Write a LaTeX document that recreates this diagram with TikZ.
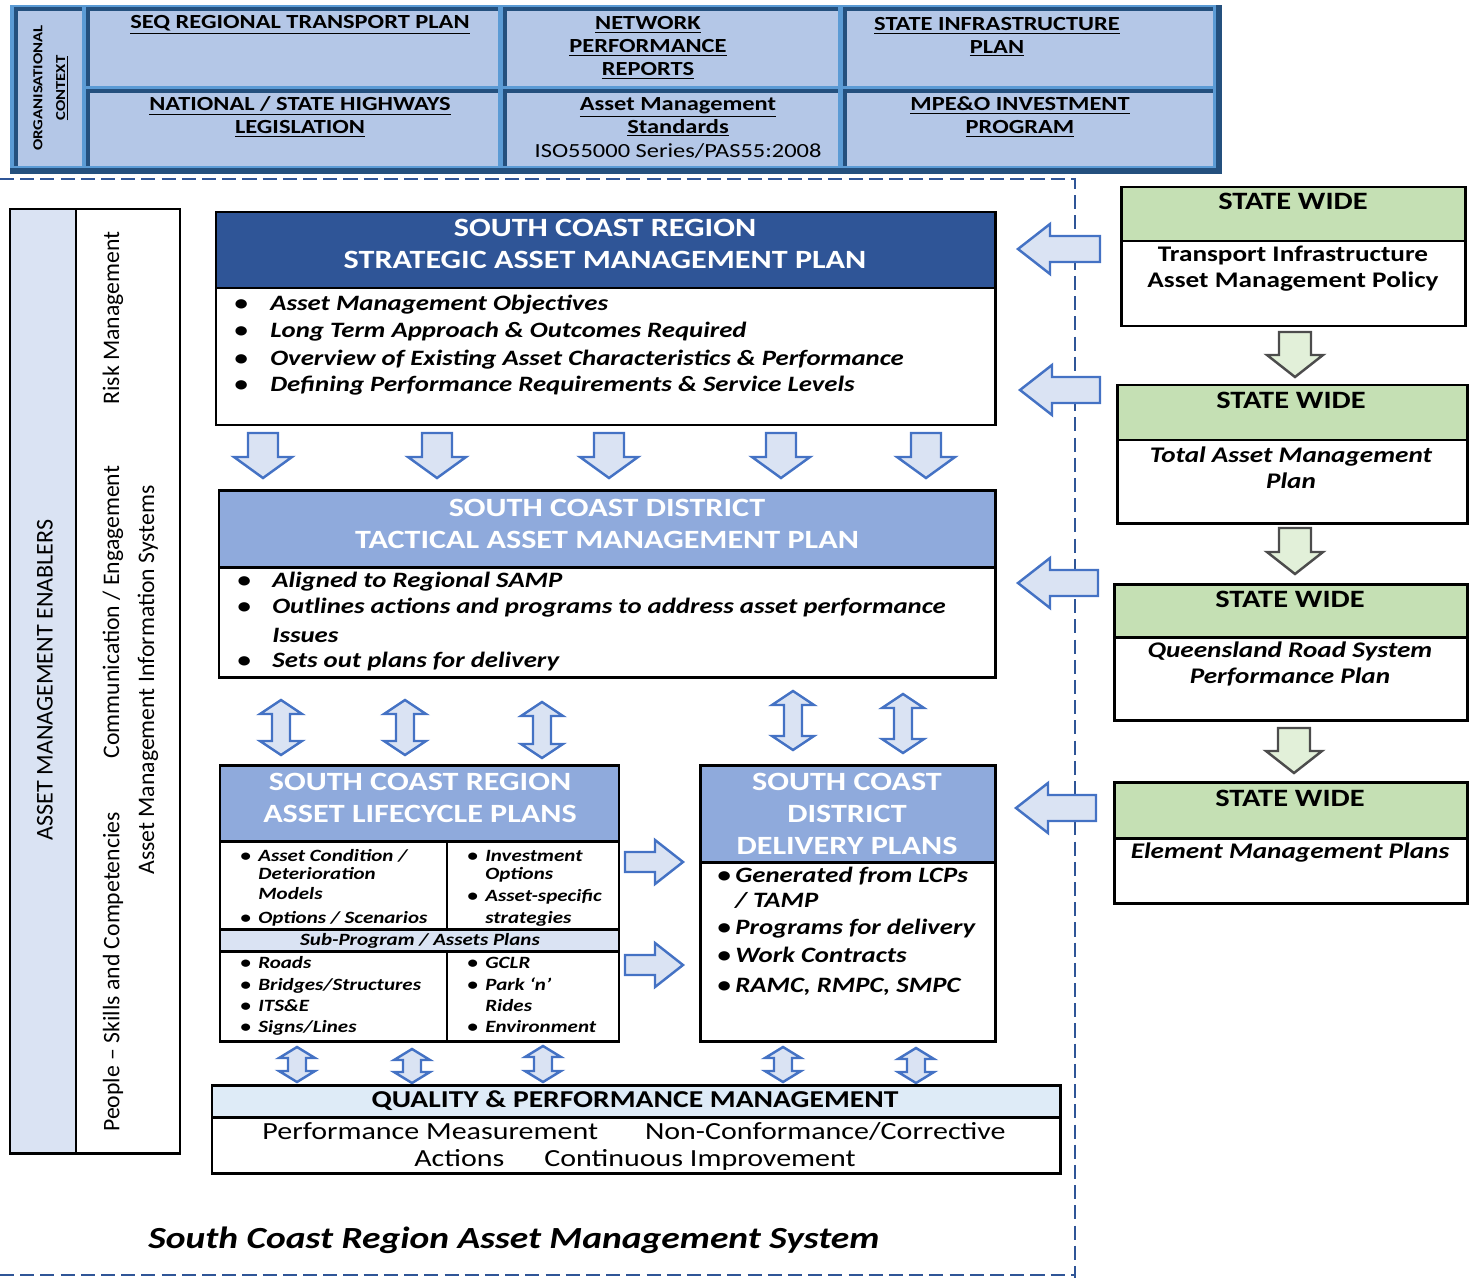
\documentclass[tikz,border=0pt]{standalone}
\usepackage{fontspec}
\setmainfont{Carlito}
\newfontfamily\widefont{Carlito}[FakeStretch=1.22]
\usetikzlibrary{calc}

\definecolor{framedark}{HTML}{24507E}
\definecolor{framemid}{HTML}{5B9BD5}
\definecolor{framecell}{HTML}{B4C7E7}
\definecolor{dashblue}{HTML}{2F5597}
\definecolor{hdrdark}{HTML}{2F5597}
\definecolor{hdrmid}{HTML}{8FAADC}
\definecolor{paleblue}{HTML}{DAE3F3}
\definecolor{arrowblue}{HTML}{4472C4}
\definecolor{hdrgreen}{HTML}{C5E0B4}
\definecolor{palegreen}{HTML}{E2F0D9}
\definecolor{qpmhdr}{HTML}{DEEBF7}

% cell of the context table: dark top and left edge
\def\ctxcell(#1,#2)(#3,#4){\fill[framecell] (#1,#2) rectangle (#3,#4);
  \draw[framedark, line width=2.6pt] (#1,#4) -- (#1,#2) -- (#3,#2);}
% block arrows: (x,y)(length:shaft half:head half:head length)
\def\arrowdown[#1](#2,#3)(#4:#5:#6:#7){\draw[#1] (#2-#5,#3) -- (#2+#5,#3) -- (#2+#5,#3+#4-#7) -- (#2+#6,#3+#4-#7) -- (#2,#3+#4) -- (#2-#6,#3+#4-#7) -- (#2-#5,#3+#4-#7) -- cycle;}
\def\arrowleft[#1](#2,#3)(#4:#5:#6:#7){\draw[#1] (#2,#3) -- (#2+#7,#3-#6) -- (#2+#7,#3-#5) -- (#2+#4,#3-#5) -- (#2+#4,#3+#5) -- (#2+#7,#3+#5) -- (#2+#7,#3+#6) -- cycle;}
\def\arrowright[#1](#2,#3)(#4:#5:#6:#7){\draw[#1] (#2,#3-#5) -- (#2+#4-#7,#3-#5) -- (#2+#4-#7,#3-#6) -- (#2+#4,#3) -- (#2+#4-#7,#3+#6) -- (#2+#4-#7,#3+#5) -- (#2,#3+#5) -- cycle;}
\def\arrowupdown[#1](#2,#3)(#4:#5:#6:#7){\draw[#1] (#2,#3) -- (#2+#6,#3+#7) -- (#2+#5,#3+#7) -- (#2+#5,#3+#4-#7) -- (#2+#6,#3+#4-#7) -- (#2,#3+#4) -- (#2-#6,#3+#4-#7) -- (#2-#5,#3+#4-#7) -- (#2-#5,#3+#7) -- (#2-#6,#3+#7) -- cycle;}

\tikzset{
  ctxtext/.style={font=\widefont\bfseries\fontsize{11.4}{13}\selectfont, align=center, inner sep=0pt},
  hdrtext/.style={font=\widefont\bfseries\fontsize{15}{18.1}\selectfont, text=white, align=center, inner sep=0pt},
  item/.style={anchor=west, inner sep=0pt, text height=9pt, text depth=2.5pt, font=\widefont\bfseries\itshape\fontsize{12.5}{15}\selectfont},
  smallitem/.style={item, text height=7pt, text depth=2pt, font=\widefont\bfseries\itshape\fontsize{9.8}{11}\selectfont},
  sidetext/.style={rotate=90, inner sep=0pt, font=\fontsize{13.5}{16}\selectfont},
  boxline/.style={draw=black, line width=1.7pt},
  bluearrow/.style={draw=arrowblue, fill=paleblue, line width=1.4pt},
  greenarrow/.style={draw=black!70, fill=palegreen, line width=1.4pt},
  dashline/.style={draw=dashblue, line width=1.2pt, dash pattern=on 8pt off 3.5pt},
  statehdr/.style={font=\widefont\bfseries\fontsize{14.2}{16}\selectfont, inner sep=0pt},
  statebody/.style={font=\widefont\bfseries\fontsize{12.7}{14.7}\selectfont, align=center, inner sep=0pt},
}

\begin{document}
\begin{tikzpicture}[x=0.02cm, y=-0.02cm]
	%%%%% START %%%%%
	\useasboundingbox (0,0) rectangle (1478,1278);
	
	% organisational context
	\fill[framemid] (10,5) rectangle (1220,172);
	\draw[framedark, line width=3.4pt] (10,171) -- (1219,171) -- (1219,5);
	\ctxcell(16,9)(82,166)
	\ctxcell(88,9)(498,86)
	\ctxcell(88,91)(498,166)
	\ctxcell(505,9)(838,86)
	\ctxcell(505,91)(838,166)
	\ctxcell(845,9)(1213,86)
	\ctxcell(845,91)(1213,166)
	
	\node[ctxtext, rotate=90, font=\widefont\bfseries\fontsize{7.8}{13}\selectfont] (ctx-org) at (51,88) {ORGANISATIONAL\\\underline{CONTEXT}};
	\node[ctxtext] (ctx-seq) at (300,25) {\underline{SEQ REGIONAL TRANSPORT PLAN}};
	\node[ctxtext] (ctx-npr) at (648,48) {\underline{NETWORK}\\\underline{PERFORMANCE}\\\underline{REPORTS}};
	\node[ctxtext] (ctx-sip) at (997,37) {\underline{STATE INFRASTRUCTURE}\\\underline{PLAN}};
	\node[ctxtext] (ctx-leg) at (300,117) {\underline{NATIONAL / STATE HIGHWAYS}\\\underline{LEGISLATION}};
	\node[ctxtext] (ctx-std) at (678,117) {\underline{Asset Management}\\\underline{Standards}};
	\node[ctxtext, font=\widefont\fontsize{11.4}{13}\selectfont] (ctx-iso) at (678,151) {ISO55000 Series/PAS55:2008};
	\node[ctxtext] (ctx-inv) at (1020,117) {\underline{MPE\&O INVESTMENT}\\\underline{PROGRAM}};
	
	% system boundary
	\draw[dashline] (0,179) -- (1075,179) -- (1075,1278);
	\draw[dashline] (0,1275) -- (1075,1275);
	
	% enablers
	\fill[paleblue] (10,209) rectangle (76,1153);
	\draw[boxline] (10,209) rectangle (180,1153);
	\draw[boxline] (76,209) -- (76,1153);
	\node[sidetext, font=\fontsize{13.7}{15}\selectfont] (en-title) at (45,680) {ASSET MANAGEMENT ENABLERS};
	\node[sidetext] (en-risk) at (113,318) {Risk Management};
	\node[sidetext] (en-comm) at (113,612) {Communication / Engagement};
	\node[sidetext] (en-people) at (113,972) {People -- Skills and Competencies};
	\node[sidetext] (en-info) at (148,680) {Asset Management Information Systems};
	
	% strategic plan
	\fill[hdrdark] (216,212) rectangle (995,288);
	\draw[boxline] (216,212) rectangle (995,425);
	\draw[boxline] (216,288) -- (995,288);
	\node[hdrtext] (samp-h) at (605,244) {SOUTH COAST REGION\\STRATEGIC ASSET MANAGEMENT PLAN};
	\node[item] (samp-1) at (234,305) {\makebox[0.72cm][l]{\textbullet}Asset Management Objectives};
	\node[item] (samp-2) at (234,332) {\makebox[0.72cm][l]{\textbullet}Long Term Approach \& Outcomes Required};
	\node[item] (samp-3) at (234,360) {\makebox[0.72cm][l]{\textbullet}Overview of Existing Asset Characteristics \& Performance};
	\node[item] (samp-4) at (234,386) {\makebox[0.72cm][l]{\textbullet}Defining Performance Requirements \& Service Levels};
	
	\arrowdown[bluearrow](263,433)(45:15:29:21)
	\arrowdown[bluearrow](437,433)(45:15:29:21)
	\arrowdown[bluearrow](609,433)(45:15:29:21)
	\arrowdown[bluearrow](781,433)(45:15:29:21)
	\arrowdown[bluearrow](926,433)(45:15:29:21)
	
	% tactical plan
	\fill[hdrmid] (219,490) rectangle (995,567);
	\draw[boxline] (219,490) rectangle (995,677);
	\draw[boxline] (219,567) -- (995,567);
	\node[hdrtext] (tamp-h) at (607,524) {SOUTH COAST DISTRICT\\TACTICAL ASSET MANAGEMENT PLAN};
	\node[item] (tamp-1) at (237,582) {\makebox[0.7cm][l]{\textbullet}Aligned to Regional SAMP};
	\node[item] (tamp-2) at (237,608) {\makebox[0.7cm][l]{\textbullet}Outlines actions and programs to address asset performance};
	\node[item] (tamp-3) at (272,637) {Issues};
	\node[item] (tamp-4) at (237,662) {\makebox[0.7cm][l]{\textbullet}Sets out plans for delivery};
	
	\arrowupdown[bluearrow](281,700)(55:9:21:14)
	\arrowupdown[bluearrow](405,700)(55:9:21:14)
	\arrowupdown[bluearrow](542,702)(56:9:21:14)
	\arrowupdown[bluearrow](793,691)(59:9:21:14)
	\arrowupdown[bluearrow](903,694)(59:9:21:14)
	
	% lifecycle plans
	\fill[hdrmid] (220,765) rectangle (619,841);
	\fill[paleblue] (220,929) rectangle (619,951);
	\draw[boxline] (220,765) rectangle (619,1041);
	\draw[boxline] (220,841) -- (619,841);
	\draw[boxline] (220,929) -- (619,929);
	\draw[boxline] (220,951) -- (619,951);
	\draw[boxline] (447,841) -- (447,929);
	\draw[boxline] (447,951) -- (447,1041);
	\node[hdrtext] (alcp-h) at (420,798) {SOUTH COAST REGION\\ASSET LIFECYCLE PLANS};
	\node[smallitem] (alcp-1) at (240,857) {\makebox[0.36cm][l]{\textbullet}Asset Condition /};
	\node[smallitem] (alcp-2) at (258,875) {Deterioration};
	\node[smallitem] (alcp-3) at (258,895) {Models};
	\node[smallitem] (alcp-4) at (240,919) {\makebox[0.36cm][l]{\textbullet}Options / Scenarios};
	\node[smallitem] (alcp-5) at (467,857) {\makebox[0.36cm][l]{\textbullet}Investment};
	\node[smallitem] (alcp-6) at (485,875) {Options};
	\node[smallitem] (alcp-7) at (467,897) {\makebox[0.36cm][l]{\textbullet}Asset-specific};
	\node[smallitem] (alcp-8) at (485,919) {strategies};
	\node[smallitem, anchor=center] (alcp-sub) at (420,941) {Sub-Program / Assets Plans};
	\node[smallitem] (alcp-9) at (240,964) {\makebox[0.36cm][l]{\textbullet}Roads};
	\node[smallitem] (alcp-10) at (240,986) {\makebox[0.36cm][l]{\textbullet}Bridges/Structures};
	\node[smallitem] (alcp-11) at (240,1007) {\makebox[0.36cm][l]{\textbullet}ITS\&E};
	\node[smallitem] (alcp-12) at (240,1028) {\makebox[0.36cm][l]{\textbullet}Signs/Lines};
	\node[smallitem] (alcp-13) at (467,964) {\makebox[0.36cm][l]{\textbullet}GCLR};
	\node[smallitem] (alcp-14) at (467,986) {\makebox[0.36cm][l]{\textbullet}Park ‘n’};
	\node[smallitem] (alcp-15) at (485,1007) {Rides};
	\node[smallitem] (alcp-16) at (467,1028) {\makebox[0.36cm][l]{\textbullet}Environment};
	
	\arrowright[bluearrow](625,862)(58:10:22:28)
	\arrowright[bluearrow](625,965)(58:10:22:28)
	
	% delivery plans
	\fill[hdrmid] (700,765) rectangle (995,862);
	\draw[boxline] (700,765) rectangle (995,1041);
	\draw[boxline] (700,862) -- (995,862);
	\node[hdrtext] (dp-h) at (847,814) {SOUTH COAST\\DISTRICT\\DELIVERY PLANS};
	\node[item] (dp-1) at (717,877) {\makebox[0.36cm][l]{\textbullet}Generated from LCPs};
	\node[item] (dp-2) at (735,902) {/ TAMP};
	\node[item] (dp-3) at (717,929) {\makebox[0.36cm][l]{\textbullet}Programs for delivery};
	\node[item] (dp-4) at (717,957) {\makebox[0.36cm][l]{\textbullet}Work Contracts};
	\node[item] (dp-5) at (717,987) {\makebox[0.36cm][l]{\textbullet}RAMC, RMPC, SMPC};
	
	\arrowupdown[bluearrow](297,1047)(35:9:18:11)
	\arrowupdown[bluearrow](412,1049)(34:9:18:11)
	\arrowupdown[bluearrow](543,1046)(36:9:18:11)
	\arrowupdown[bluearrow](783,1047)(35:9:18:11)
	\arrowupdown[bluearrow](916,1048)(35:9:18:11)
	
	% quality and performance
	\fill[qpmhdr] (212,1085) rectangle (1060,1117);
	\draw[boxline] (212,1085) rectangle (1060,1173);
	\draw[boxline] (212,1117) -- (1060,1117);
	\node[inner sep=0pt, font=\widefont\bfseries\fontsize{13.8}{16}\selectfont] (qpm-h) at (635,1101) {QUALITY \& PERFORMANCE MANAGEMENT};
	\node[inner sep=0pt, font=\widefont\fontsize{14}{16}\selectfont] (qpm-1) at (634,1131) {Performance Measurement\hspace{0.94cm}Non-Conformance/Corrective};
	\node[inner sep=0pt, font=\widefont\fontsize{14}{16}\selectfont] (qpm-2) at (635,1160) {Actions\hspace{0.8cm}Continuous Improvement};
	
	\node[inner sep=0pt, font=\widefont\bfseries\itshape\fontsize{17.5}{21}\selectfont] (sys-title) at (514,1240) {South Coast Region Asset Management System};
	
	% state wide plans
	\fill[hdrgreen] (1121,187) rectangle (1465,241);
	\draw[boxline] (1121,187) rectangle (1465,326);
	\draw[boxline] (1121,241) -- (1465,241);
	\node[statehdr] (sw1-h) at (1293,201) {STATE WIDE};
	\node[statebody] (sw1-b) at (1293,269) {Transport Infrastructure\\Asset Management Policy};
	
	\arrowdown[greenarrow](1295,332)(45:16:28:22)
	
	\fill[hdrgreen] (1117,385) rectangle (1467,440);
	\draw[boxline] (1117,385) rectangle (1467,523);
	\draw[boxline] (1117,440) -- (1467,440);
	\node[statehdr] (sw2-h) at (1291,400) {STATE WIDE};
	\node[statebody, font=\widefont\bfseries\itshape\fontsize{12.7}{14.7}\selectfont] (sw2-b) at (1291,468) {Total Asset Management\\Plan};
	
	\arrowdown[greenarrow](1295,528)(46:16:28:22)
	
	\fill[hdrgreen] (1114,584) rectangle (1467,637);
	\draw[boxline] (1114,584) rectangle (1467,720);
	\draw[boxline] (1114,637) -- (1467,637);
	\node[statehdr] (sw3-h) at (1290,599) {STATE WIDE};
	\node[statebody, font=\widefont\bfseries\itshape\fontsize{12.7}{14.7}\selectfont] (sw3-b) at (1290,664) {Queensland Road System\\Performance Plan};
	
	\arrowdown[greenarrow](1294,728)(45:16:28:22)
	
	\fill[hdrgreen] (1114,782) rectangle (1467,838);
	\draw[boxline] (1114,782) rectangle (1467,903);
	\draw[boxline] (1114,838) -- (1467,838);
	\node[statehdr] (sw4-h) at (1290,798) {STATE WIDE};
	\node[statebody, font=\widefont\bfseries\itshape\fontsize{12.7}{14.7}\selectfont] (sw4-b) at (1290,853) {Element Management Plans};
	
	\arrowleft[bluearrow](1018,249)(82:13:25:32)
	\arrowleft[bluearrow](1020,390)(80:13:25:32)
	\arrowleft[bluearrow](1018,583)(80:13:25:32)
	\arrowleft[bluearrow](1016,808)(80:13:25:32)
	
	%%%%% END %%%%%
\end{tikzpicture}
\end{document}
